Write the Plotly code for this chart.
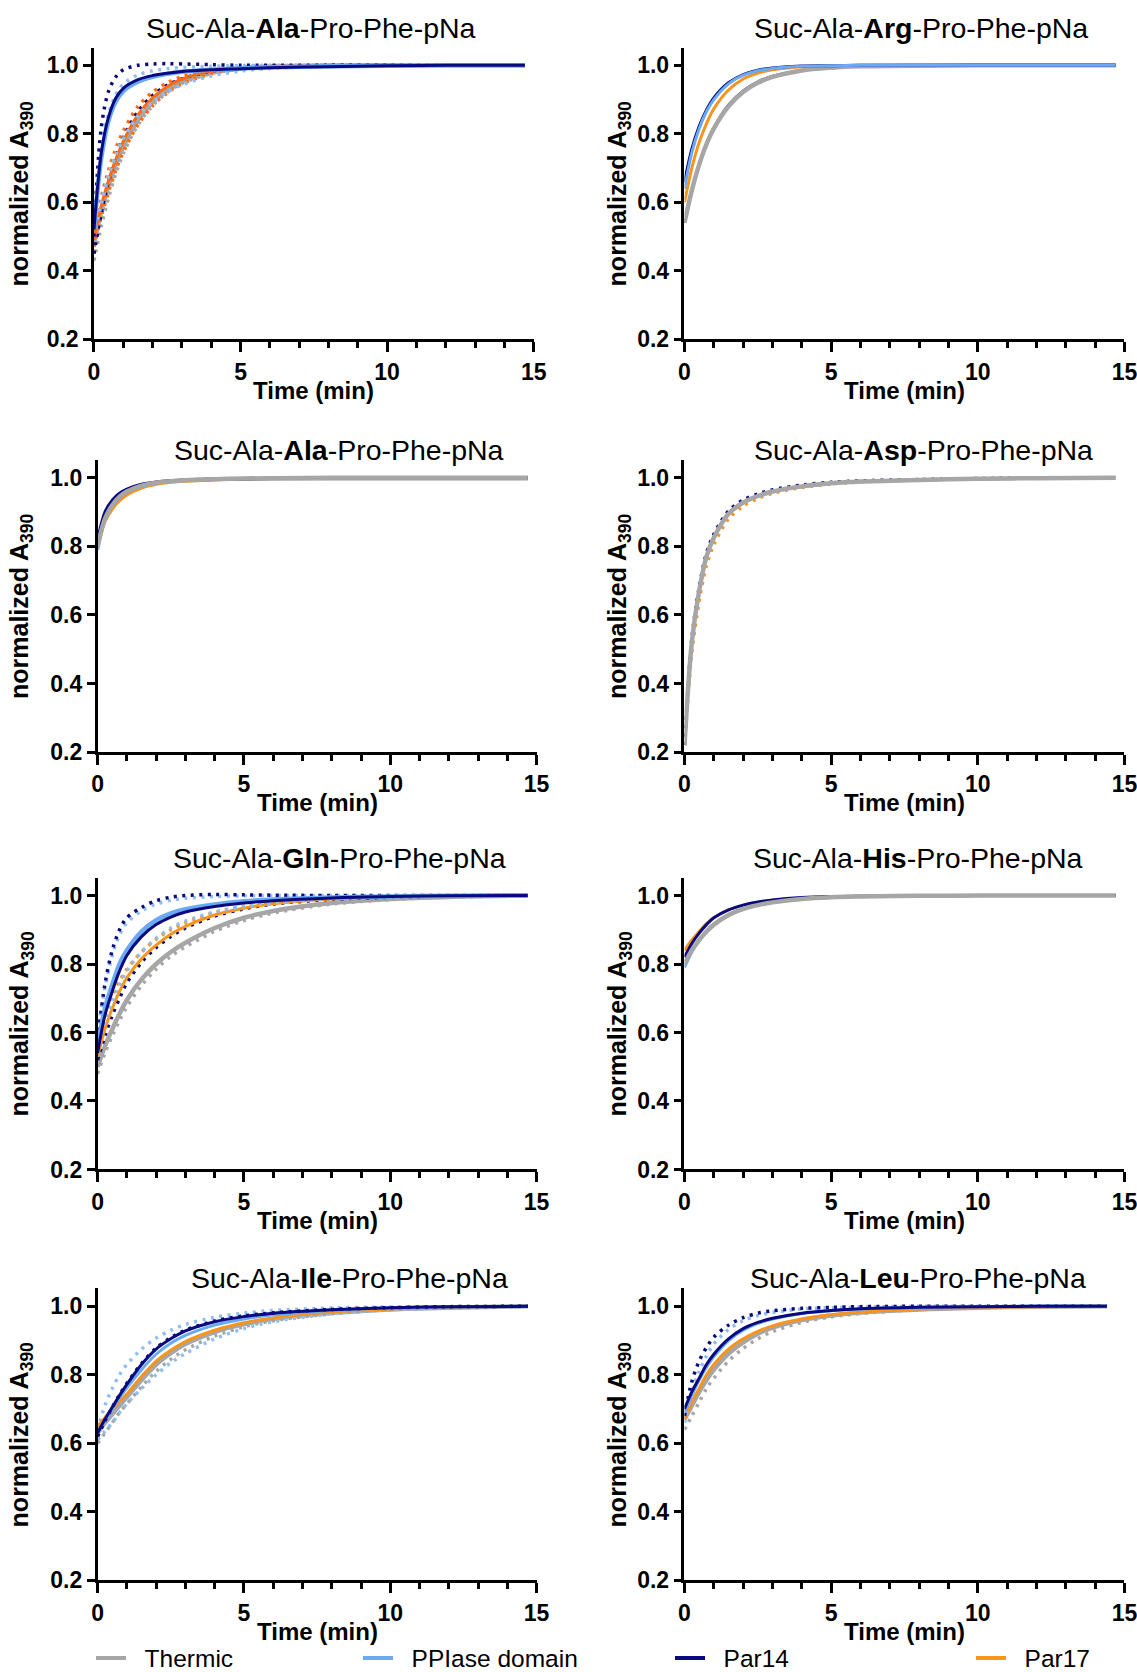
import plotly.graph_objects as go

W, H = 1137, 1672
FONT = "Liberation Sans, Arial, sans-serif"

# ---------------- data ----------------
T = [0, 0.25, 0.5, 0.75, 1, 1.5, 2, 2.5, 3, 4, 5, 6, 8, 10, 12, 14.7]
T_LEU = [0, 0.25, 0.5, 0.75, 1, 1.5, 2, 2.5, 3, 4, 5, 6, 8, 10, 12, 14.4]

TITLES = [
    "Suc-Ala-<b>Ala</b>-Pro-Phe-pNa", "Suc-Ala-<b>Arg</b>-Pro-Phe-pNa",
    "Suc-Ala-<b>Ala</b>-Pro-Phe-pNa", "Suc-Ala-<b>Asp</b>-Pro-Phe-pNa",
    "Suc-Ala-<b>Gln</b>-Pro-Phe-pNa", "Suc-Ala-<b>His</b>-Pro-Phe-pNa",
    "Suc-Ala-<b>Ile</b>-Pro-Phe-pNa", "Suc-Ala-<b>Leu</b>-Pro-Phe-pNa",
]
X_TICKS = [0, 5, 10, 15]
Y_TICKS = [0.2, 0.4, 0.6, 0.8, 1.0]
Y_TICK_TEXT = ["0.2", "0.4", "0.6", "0.8", "1.0"]
LEGEND_NAMES = ["Thermic", "PPIase domain", "Par14", "Par17"]

# Panel 1: Ala (top)
p1_thermic = [0.48, 0.575, 0.65, 0.712, 0.763, 0.84, 0.893, 0.928, 0.952, 0.979, 0.991, 0.996, 0.999, 1.0, 1.0, 1.0]
p1_thermic_rep = [0.43, 0.53, 0.615, 0.685, 0.742, 0.826, 0.882, 0.921, 0.947, 0.976, 0.989, 0.995, 0.999, 1.0, 1.0, 1.0]
p1_par17 = [0.49, 0.59, 0.665, 0.727, 0.778, 0.855, 0.905, 0.938, 0.96, 0.983, 0.993, 0.997, 1.0, 1.0, 1.0, 1.0]
p1_par17_rep1 = [0.50, 0.615, 0.695, 0.758, 0.808, 0.88, 0.922, 0.949, 0.967, 0.987, 0.995, 0.998, 1.0, 1.0, 1.0, 1.0]
p1_par17_rep2 = [0.47, 0.56, 0.632, 0.695, 0.747, 0.827, 0.882, 0.92, 0.946, 0.975, 0.989, 0.995, 0.999, 1.0, 1.0, 1.0]
p1_par14 = [0.52, 0.745, 0.85, 0.905, 0.933, 0.958, 0.97, 0.977, 0.982, 0.987, 0.99, 0.993, 0.996, 0.999, 1.0, 1.0]
p1_par14_rep1 = [0.50, 0.82, 0.925, 0.967, 0.987, 1.0, 1.004, 1.005, 1.004, 1.002, 1.0, 1.0, 1.0, 1.0, 1.0, 1.0]
p1_par14_rep2 = [0.45, 0.57, 0.662, 0.733, 0.788, 0.865, 0.912, 0.942, 0.961, 0.983, 0.993, 0.997, 0.999, 1.0, 1.0, 1.0]
p1_ppiase = [0.52, 0.73, 0.84, 0.895, 0.925, 0.952, 0.966, 0.975, 0.981, 0.987, 0.991, 0.994, 0.997, 0.999, 1.0, 1.0]
p1_ppiase_rep1 = [0.55, 0.76, 0.86, 0.915, 0.945, 0.972, 0.984, 0.99, 0.994, 0.997, 0.999, 1.0, 1.0, 1.0, 1.0, 1.0]
p1_ppiase_rep2 = [0.50, 0.60, 0.68, 0.74, 0.787, 0.852, 0.893, 0.922, 0.943, 0.969, 0.983, 0.991, 0.997, 0.999, 1.0, 1.0]

# Panel 2: Arg
p2_thermic = [0.54, 0.635, 0.71, 0.77, 0.815, 0.88, 0.922, 0.949, 0.966, 0.985, 0.993, 0.997, 0.999, 1.0, 1.0, 1.0]
p2_thermic_fit = [0.54, 0.64, 0.717, 0.776, 0.822, 0.887, 0.928, 0.954, 0.97, 0.987, 0.994, 0.997, 0.998, 0.998, 0.998, 0.998]
p2_par17 = [0.60, 0.70, 0.775, 0.83, 0.873, 0.928, 0.96, 0.977, 0.987, 0.996, 0.999, 1.0, 1.0, 1.0, 1.0, 1.0]
p2_par14 = [0.66, 0.756, 0.822, 0.87, 0.905, 0.949, 0.973, 0.986, 0.992, 0.998, 0.999, 1.0, 1.0, 1.0, 1.0, 1.0]
p2_ppiase = [0.64, 0.745, 0.815, 0.865, 0.90, 0.946, 0.971, 0.984, 0.991, 0.997, 0.999, 1.0, 1.0, 1.0, 1.0, 1.0]

# Panel 3: Ala (second)
p3_thermic = [0.80, 0.88, 0.92, 0.945, 0.96, 0.977, 0.986, 0.99, 0.993, 0.996, 0.998, 0.999, 1.0, 1.0, 1.0, 1.0]
p3_thermic_fit = [0.80, 0.875, 0.915, 0.94, 0.957, 0.975, 0.984, 0.989, 0.991, 0.993, 0.994, 0.995, 0.995, 0.995, 0.995, 0.995]
p3_par17 = [0.81, 0.872, 0.908, 0.933, 0.95, 0.97, 0.981, 0.987, 0.99, 0.994, 0.997, 0.998, 0.999, 1.0, 1.0, 1.0]
p3_par14 = [0.82, 0.90, 0.935, 0.955, 0.967, 0.981, 0.988, 0.992, 0.994, 0.997, 0.998, 0.999, 1.0, 1.0, 1.0, 1.0]
p3_ppiase = [0.79, 0.875, 0.918, 0.943, 0.958, 0.975, 0.985, 0.99, 0.993, 0.996, 0.998, 0.999, 1.0, 1.0, 1.0, 1.0]

# Panel 4: Asp
p4_thermic = [0.22, 0.52, 0.67, 0.77, 0.825, 0.895, 0.928, 0.947, 0.96, 0.975, 0.984, 0.989, 0.994, 0.997, 0.999, 1.0]
p4_par14 = [0.22, 0.53, 0.68, 0.78, 0.835, 0.903, 0.935, 0.953, 0.965, 0.979, 0.987, 0.991, 0.995, 0.998, 0.999, 1.0]
p4_par17 = [0.22, 0.49, 0.64, 0.745, 0.805, 0.88, 0.918, 0.94, 0.955, 0.972, 0.982, 0.988, 0.994, 0.997, 0.999, 1.0]
p4_ppiase = [0.22, 0.51, 0.665, 0.765, 0.822, 0.893, 0.927, 0.946, 0.959, 0.974, 0.983, 0.989, 0.994, 0.997, 0.999, 1.0]

# Panel 5: Gln
p5_thermic = [0.50, 0.56, 0.61, 0.655, 0.695, 0.755, 0.80, 0.835, 0.862, 0.905, 0.935, 0.955, 0.978, 0.99, 0.996, 1.0]
p5_thermic_rep = [0.48, 0.54, 0.59, 0.635, 0.675, 0.737, 0.785, 0.822, 0.85, 0.895, 0.927, 0.949, 0.975, 0.988, 0.995, 1.0]
p5_par17 = [0.53, 0.61, 0.67, 0.72, 0.76, 0.815, 0.855, 0.887, 0.91, 0.943, 0.963, 0.976, 0.99, 0.996, 0.999, 1.0]
p5_par17_rep = [0.60, 0.66, 0.71, 0.75, 0.785, 0.835, 0.872, 0.90, 0.92, 0.95, 0.968, 0.979, 0.991, 0.996, 0.999, 1.0]
p5_par14 = [0.54, 0.65, 0.72, 0.78, 0.825, 0.88, 0.915, 0.937, 0.952, 0.968, 0.978, 0.985, 0.993, 0.997, 0.999, 1.0]
p5_par14_rep1 = [0.58, 0.74, 0.84, 0.90, 0.935, 0.965, 0.985, 0.995, 1.0, 1.003, 1.002, 1.001, 1.0, 1.0, 1.0, 1.0]
p5_par14_rep2 = [0.52, 0.59, 0.65, 0.70, 0.745, 0.805, 0.848, 0.88, 0.905, 0.94, 0.961, 0.975, 0.989, 0.995, 0.999, 1.0]
p5_ppiase = [0.56, 0.67, 0.74, 0.80, 0.84, 0.895, 0.928, 0.948, 0.96, 0.974, 0.983, 0.988, 0.994, 0.997, 0.999, 1.0]
p5_ppiase_rep1 = [0.60, 0.73, 0.825, 0.885, 0.92, 0.955, 0.975, 0.986, 0.992, 0.997, 0.999, 1.0, 1.0, 1.0, 1.0, 1.0]
p5_ppiase_rep2 = [0.55, 0.63, 0.69, 0.74, 0.78, 0.835, 0.875, 0.905, 0.925, 0.952, 0.968, 0.979, 0.991, 0.996, 0.999, 1.0]

# Panel 6: His
p6_thermic = [0.80, 0.84, 0.87, 0.895, 0.915, 0.943, 0.961, 0.972, 0.98, 0.99, 0.995, 0.997, 0.999, 1.0, 1.0, 1.0]
p6_par17 = [0.84, 0.87, 0.895, 0.918, 0.935, 0.958, 0.972, 0.98, 0.986, 0.993, 0.996, 0.998, 0.999, 1.0, 1.0, 1.0]
p6_par14 = [0.82, 0.86, 0.89, 0.915, 0.935, 0.958, 0.972, 0.981, 0.987, 0.994, 0.997, 0.998, 0.999, 1.0, 1.0, 1.0]
p6_ppiase = [0.79, 0.835, 0.868, 0.893, 0.913, 0.942, 0.96, 0.972, 0.98, 0.99, 0.995, 0.997, 0.999, 1.0, 1.0, 1.0]

# Panel 7: Ile
p7_thermic = [0.63, 0.66, 0.685, 0.71, 0.735, 0.785, 0.83, 0.863, 0.89, 0.925, 0.948, 0.963, 0.981, 0.991, 0.996, 1.0]
p7_thermic_rep = [0.60, 0.63, 0.66, 0.69, 0.715, 0.765, 0.81, 0.845, 0.873, 0.913, 0.94, 0.958, 0.978, 0.99, 0.996, 1.0]
p7_par17 = [0.65, 0.675, 0.70, 0.722, 0.744, 0.795, 0.84, 0.872, 0.897, 0.93, 0.952, 0.966, 0.983, 0.992, 0.997, 1.0]
p7_par14 = [0.63, 0.67, 0.705, 0.74, 0.772, 0.83, 0.875, 0.905, 0.928, 0.955, 0.97, 0.98, 0.99, 0.996, 0.999, 1.0]
p7_par14_rep = [0.62, 0.665, 0.705, 0.742, 0.775, 0.833, 0.878, 0.908, 0.93, 0.957, 0.972, 0.981, 0.991, 0.996, 0.999, 1.0]
p7_ppiase = [0.63, 0.665, 0.70, 0.733, 0.762, 0.815, 0.86, 0.892, 0.915, 0.945, 0.963, 0.975, 0.988, 0.995, 0.998, 1.0]
p7_ppiase_rep1 = [0.64, 0.71, 0.76, 0.80, 0.83, 0.875, 0.907, 0.93, 0.947, 0.968, 0.98, 0.988, 0.995, 0.998, 0.999, 1.0]
p7_ppiase_rep2 = [0.61, 0.635, 0.66, 0.69, 0.715, 0.76, 0.80, 0.835, 0.862, 0.905, 0.935, 0.955, 0.978, 0.99, 0.996, 1.0]

# Panel 8: Leu
p8_thermic = [0.67, 0.71, 0.75, 0.785, 0.815, 0.862, 0.895, 0.92, 0.938, 0.96, 0.973, 0.982, 0.991, 0.996, 0.999, 1.0]
p8_thermic_rep = [0.64, 0.68, 0.72, 0.76, 0.79, 0.84, 0.877, 0.905, 0.926, 0.953, 0.969, 0.979, 0.99, 0.996, 0.999, 1.0]
p8_par17 = [0.67, 0.72, 0.76, 0.80, 0.83, 0.875, 0.905, 0.927, 0.943, 0.963, 0.975, 0.983, 0.992, 0.997, 0.999, 1.0]
p8_par14 = [0.70, 0.75, 0.79, 0.83, 0.86, 0.905, 0.935, 0.953, 0.965, 0.98, 0.988, 0.993, 0.997, 0.999, 1.0, 1.0]
p8_par14_rep = [0.68, 0.78, 0.84, 0.88, 0.91, 0.945, 0.967, 0.98, 0.987, 0.994, 0.997, 0.999, 1.0, 1.0, 1.0, 1.0]
p8_ppiase = [0.69, 0.74, 0.785, 0.822, 0.853, 0.90, 0.93, 0.95, 0.963, 0.979, 0.987, 0.992, 0.997, 0.999, 1.0, 1.0]
p8_ppiase_rep = [0.66, 0.75, 0.81, 0.855, 0.89, 0.932, 0.958, 0.973, 0.982, 0.992, 0.996, 0.998, 1.0, 1.0, 1.0, 1.0]

# ---------------- styling ----------------
COL = {
    "thermic": "#A6A6A6",
    "fitk": "#3A3A3A",
    "ppiase": "#6AAAF2",
    "ppiase_dot": "#8FBEF3",
    "par14": "#0A0A80",
    "par17": "#F7941D",
    "par17r": "#FF6A14",
}

# (values, colour key, kind) kinds: 'dot' data replicate, 'fit' solid curve, 'thick' wide solid, 'thin' thin solid
PANELS = [
    (T, [(p1_thermic_rep, "thermic", "dot"), (p1_thermic, "thermic", "thick"),
         (p1_par17_rep2, "par17r", "dot"), (p1_par17_rep1, "par17r", "dot"), (p1_par14_rep2, "par14", "dot"),
         (p1_par17, "par17r", "fit"), (p1_ppiase_rep2, "ppiase_dot", "dot"),
         (p1_ppiase_rep1, "ppiase_dot", "dot"), (p1_par14_rep1, "par14", "dot"),
         (p1_ppiase, "ppiase", "thick"), (p1_par14, "par14", "fit")]),
    (T, [(p2_thermic_fit, "fitk", "thin"), (p2_thermic, "thermic", "thick"),
         (p2_par17, "par17", "fit"), (p2_par14, "par14", "fit"), (p2_ppiase, "ppiase", "fit")]),
    (T, [(p3_par17, "par17", "fit"), (p3_ppiase, "ppiase", "fit"), (p3_par14, "par14", "fit"),
         (p3_thermic_fit, "fitk", "thin"), (p3_thermic, "thermic", "thick")]),
    (T, [(p4_par17, "par17", "dot"), (p4_par14, "par14", "dot"), (p4_ppiase, "ppiase_dot", "dot"),
         (p4_thermic, "thermic", "thick")]),
    (T, [(p5_thermic_rep, "thermic", "dot"), (p5_thermic, "thermic", "thick"),
         (p5_par14_rep2, "par14", "dot"), (p5_par17_rep, "par17", "dot"), (p5_par17, "par17", "fit"),
         (p5_ppiase_rep2, "ppiase_dot", "dot"), (p5_ppiase_rep1, "ppiase_dot", "dot"),
         (p5_par14_rep1, "par14", "dot"), (p5_ppiase, "ppiase", "thick"), (p5_par14, "par14", "fit")]),
    (T, [(p6_ppiase, "ppiase", "fit"), (p6_par17, "par17", "fit"), (p6_par14, "par14", "fit"),
         (p6_thermic, "thermic", "thick")]),
    (T, [(p7_thermic_rep, "thermic", "dot"), (p7_thermic, "thermic", "thick"),
         (p7_ppiase_rep2, "ppiase_dot", "dot"), (p7_ppiase_rep1, "ppiase_dot", "dot"),
         (p7_par17, "par17", "fit"), (p7_ppiase, "ppiase", "fit"),
         (p7_par14_rep, "par14", "dot"), (p7_par14, "par14", "fit")]),
    (T_LEU, [(p8_thermic_rep, "thermic", "dot"), (p8_thermic, "thermic", "thick"),
             (p8_par17, "par17", "fit"), (p8_ppiase_rep, "ppiase_dot", "dot"),
             (p8_par14_rep, "par14", "dot"), (p8_ppiase, "ppiase", "fit"), (p8_par14, "par14", "fit")]),
]

ROW_Y = [(0.79707, 0.97159), (0.55024, 0.72488), (0.30054, 0.47506), (0.05484, 0.22937)]
LEFT_X = [(0.08267, 0.46939), (0.08584, 0.47194), (0.08584, 0.47194), (0.08584, 0.47194)]
RIGHT_X = (0.60202, 0.98900)
TITLE_PX = [(311, 28), (921, 28), (339, 450), (923, 450), (339, 858), (918, 858), (349, 1278), (918, 1278)]

fig = go.Figure()
annotations = []

for i, (tt, series) in enumerate(PANELS):
    row, col = divmod(i, 2)
    n = i + 1
    xa = "x" if n == 1 else f"x{n}"
    ya = "y" if n == 1 else f"y{n}"
    xdom = LEFT_X[row] if col == 0 else RIGHT_X
    ydom = ROW_Y[row]
    for vals, ck, kind in series:
        if kind == "dot":
            line = dict(color=COL[ck], width=3.5, dash="3px,5.5px", shape="spline", smoothing=0.9)
        elif kind == "thick":
            line = dict(color=COL[ck], width=4.5, shape="spline", smoothing=0.9)
        elif kind == "thin":
            line = dict(color=COL[ck], width=1.5, shape="spline", smoothing=0.9)
        else:
            line = dict(color=COL[ck], width=3, shape="spline", smoothing=0.9)
        fig.add_trace(go.Scatter(x=tt, y=vals, mode="lines", line=line, xaxis=xa, yaxis=ya,
                                 showlegend=False, hoverinfo="skip"))
    axx = dict(domain=list(xdom), anchor=ya, range=[0, 15], showline=True, linecolor="black",
               linewidth=2.5, ticks="outside", ticklen=10, tickwidth=2.5, tickcolor="black",
               tickvals=X_TICKS, ticktext=[str(v) for v in X_TICKS], showgrid=False, zeroline=False,
               ticklabeloverflow="allow",
               tickfont=dict(family=FONT, size=23, color="black", weight="bold"),
               minor=dict(dtick=1, tick0=0, ticks="outside", ticklen=6, tickwidth=2.5,
                          tickcolor="black", showgrid=False))
    axy = dict(domain=list(ydom), anchor=xa, range=[0.2, 1.052], showline=True, linecolor="black",
               linewidth=2.5, ticks="outside", ticklen=8, tickwidth=2.5, tickcolor="black",
               tickvals=Y_TICKS, ticktext=Y_TICK_TEXT, showgrid=False, zeroline=False,
               ticklabeloverflow="allow",
               tickfont=dict(family=FONT, size=23, color="black", weight="bold"))
    fig.update_layout(**{("xaxis" if n == 1 else f"xaxis{n}"): axx,
                         ("yaxis" if n == 1 else f"yaxis{n}"): axy})

    tx, ty = TITLE_PX[i]
    annotations.append(dict(text=TITLES[i], x=tx / W, y=1 - ty / H, xref="paper", yref="paper",
                            xanchor="center", yanchor="middle", showarrow=False,
                            font=dict(family=FONT, size=28.5, color="black")))
    # x axis title
    xbot_px = (1 - ydom[0]) * H
    annotations.append(dict(text="<b>Time (min)</b>", x=(xdom[0] + xdom[1]) / 2, y=1 - (xbot_px + 51) / H,
                            xref="paper", yref="paper", xanchor="center", yanchor="middle",
                            showarrow=False, font=dict(family=FONT, size=24, color="black")))
    # y axis title
    ytx = 21 if col == 0 else 619
    annotations.append(dict(text="<b>normalized A<sub>390</sub></b>", x=ytx / W, y=(ydom[0] + ydom[1]) / 2,
                            xref="paper", yref="paper", xanchor="center", yanchor="middle",
                            textangle=-90, showarrow=False,
                            font=dict(family=FONT, size=25, color="black")))

# legend entries (one legend each, to place them like the reference)
LEG_COLS = ["thermic", "ppiase", "par14", "par17"]
LEG_X_PX = [91, 358, 670, 971]
legend_ids = ["legend", "legend2", "legend3", "legend4"]
for name, ck, lid in zip(LEGEND_NAMES, LEG_COLS, legend_ids):
    fig.add_trace(go.Scatter(x=[None], y=[None], mode="lines", name="\u00a0\u00a0" + name,
                             line=dict(color=COL[ck], width=4), legend=lid, showlegend=True,
                             xaxis="x", yaxis="y"))
leg_common = dict(orientation="h", yanchor="middle", y=1 - 1658 / H, xanchor="left",
                  bgcolor="rgba(0,0,0,0)", borderwidth=0,
                  font=dict(family=FONT, size=24.5, color="black"))
fig.update_layout(**{lid: dict(x=px / W, **leg_common) for lid, px in zip(legend_ids, LEG_X_PX)})

fig.update_layout(width=W, height=H, margin=dict(l=0, r=0, t=0, b=0, autoexpand=False),
                  paper_bgcolor="white", plot_bgcolor="white",
                  font=dict(family=FONT, color="black"), annotations=annotations)

fig.write_html("out.html")
